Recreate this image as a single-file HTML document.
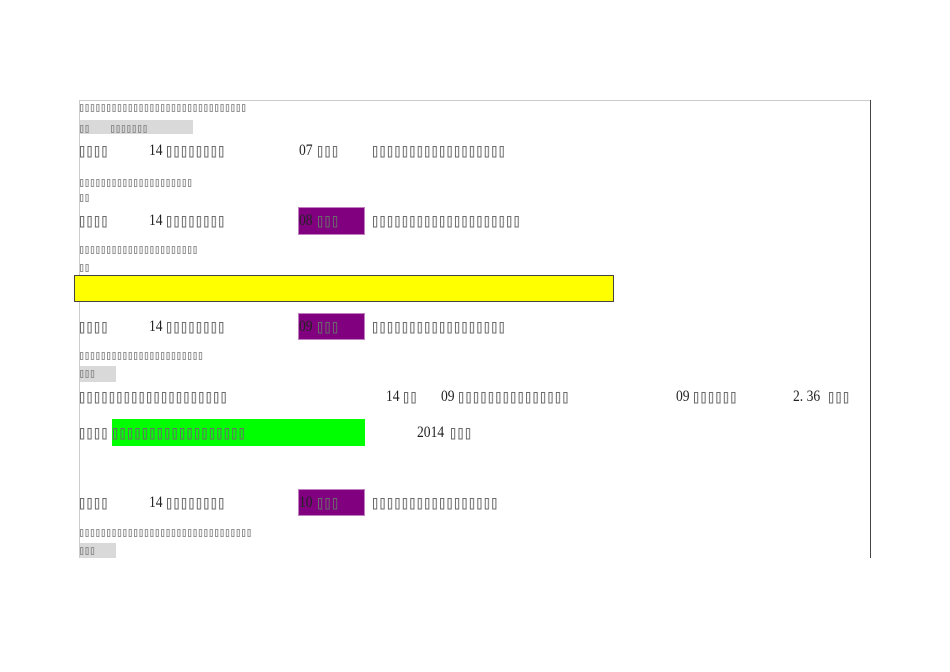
<!DOCTYPE html>
<html><head><meta charset="utf-8"><style>
body{margin:0;width:950px;height:672px;background:#fff;position:relative;overflow:hidden;font-family:"Liberation Serif","Noto Serif CJK SC",serif}
.a{position:absolute}
.t{position:absolute;font-size:16px;color:#222;line-height:16px;transform:scaleX(0.85);transform-origin:left top}
svg.r{position:absolute;overflow:visible}
</style></head><body>
<svg width="0" height="0" style="position:absolute"><defs>
<pattern id="pb" width="7.45" height="12" patternUnits="userSpaceOnUse"><rect x="0.5" y="0.5" width="3.2" height="10.5" fill="none" stroke="#6a6a6a" stroke-width="1"/></pattern>
<pattern id="ps" width="5.4" height="8" patternUnits="userSpaceOnUse"><rect x="0.5" y="0.5" width="2.3" height="7" fill="none" stroke="#8a8a8a" stroke-width="0.9"/></pattern>
</defs></svg>

<div class="a" style="left:79px;top:100px;width:792px;height:1px;background:#ccc"></div>
<div class="a" style="left:79px;top:100px;width:1px;height:458px;background:#ccc"></div>
<div class="a" style="left:870px;top:100px;width:1px;height:458px;background:#444"></div>

<div class="a" style="left:80px;top:120px;width:113px;height:14px;background:#d9d9d9"></div>
<div class="a" style="left:298px;top:207px;width:67px;height:28px;background:#800080;box-shadow:0 0 0 1px #c080c0 inset"></div>
<div class="a" style="left:74px;top:275px;width:538px;height:25px;background:#ff0;border:1px solid #444"></div>
<div class="a" style="left:298px;top:313px;width:67px;height:27px;background:#800080;box-shadow:0 0 0 1px #c080c0 inset"></div>
<div class="a" style="left:80px;top:366px;width:36px;height:16px;background:#d9d9d9"></div>
<div class="a" style="left:112px;top:419px;width:253px;height:27px;background:#00ff00"></div>
<div class="a" style="left:298px;top:489px;width:67px;height:27px;background:#800080;box-shadow:0 0 0 1px #c080c0 inset"></div>
<div class="a" style="left:80px;top:543px;width:36px;height:15px;background:#d9d9d9"></div>

<svg class="r" style="left:80px;top:104px" width="166" height="8"><rect width="166" height="8" fill="url(#ps)"/></svg>
<svg class="r" style="left:80px;top:125px" width="9" height="8"><rect width="9" height="8" fill="url(#ps)"/></svg>
<svg class="r" style="left:111px;top:125px" width="37" height="8"><rect width="37" height="8" fill="url(#ps)"/></svg>
<svg class="r" style="left:80px;top:179px" width="112" height="8"><rect width="112" height="8" fill="url(#ps)"/></svg>
<svg class="r" style="left:80px;top:194px" width="9" height="8"><rect width="9" height="8" fill="url(#ps)"/></svg>
<svg class="r" style="left:80px;top:246px" width="117" height="8"><rect width="117" height="8" fill="url(#ps)"/></svg>
<svg class="r" style="left:80px;top:264px" width="9" height="8"><rect width="9" height="8" fill="url(#ps)"/></svg>
<svg class="r" style="left:80px;top:352px" width="123" height="8"><rect width="123" height="8" fill="url(#ps)"/></svg>
<svg class="r" style="left:80px;top:370px" width="15" height="8"><rect width="15" height="8" fill="url(#ps)"/></svg>
<svg class="r" style="left:80px;top:529px" width="171" height="8"><rect width="171" height="8" fill="url(#ps)"/></svg>
<svg class="r" style="left:80px;top:547px" width="15" height="8"><rect width="15" height="8" fill="url(#ps)"/></svg>

<svg class="r" style="left:80px;top:146px" width="27" height="12"><rect width="27" height="12" fill="url(#pb)"/></svg>
<div class="t" style="left:149px;top:143px">14</div>
<svg class="r" style="left:167px;top:146px" width="57" height="12"><rect width="57" height="12" fill="url(#pb)"/></svg>
<div class="t" style="left:299px;top:143px">07</div>
<svg class="r" style="left:318px;top:146px" width="20" height="12"><rect width="20" height="12" fill="url(#pb)"/></svg>
<svg class="r" style="left:373px;top:146px" width="131" height="12"><rect width="131" height="12" fill="url(#pb)"/></svg>

<svg class="r" style="left:80px;top:216px" width="27" height="12"><rect width="27" height="12" fill="url(#pb)"/></svg>
<div class="t" style="left:149px;top:213px">14</div>
<svg class="r" style="left:167px;top:216px" width="57" height="12"><rect width="57" height="12" fill="url(#pb)"/></svg>
<div class="t" style="left:299px;top:213px">08</div>
<svg class="r" style="left:318px;top:216px" width="20" height="12"><rect width="20" height="12" fill="url(#pb)"/></svg>
<svg class="r" style="left:373px;top:216px" width="146" height="12"><rect width="146" height="12" fill="url(#pb)"/></svg>

<svg class="r" style="left:80px;top:322px" width="27" height="12"><rect width="27" height="12" fill="url(#pb)"/></svg>
<div class="t" style="left:149px;top:319px">14</div>
<svg class="r" style="left:167px;top:322px" width="57" height="12"><rect width="57" height="12" fill="url(#pb)"/></svg>
<div class="t" style="left:299px;top:319px">09</div>
<svg class="r" style="left:318px;top:322px" width="20" height="12"><rect width="20" height="12" fill="url(#pb)"/></svg>
<svg class="r" style="left:373px;top:322px" width="131" height="12"><rect width="131" height="12" fill="url(#pb)"/></svg>

<svg class="r" style="left:80px;top:498px" width="27" height="12"><rect width="27" height="12" fill="url(#pb)"/></svg>
<div class="t" style="left:149px;top:495px">14</div>
<svg class="r" style="left:167px;top:498px" width="57" height="12"><rect width="57" height="12" fill="url(#pb)"/></svg>
<div class="t" style="left:299px;top:495px">10</div>
<svg class="r" style="left:318px;top:498px" width="20" height="12"><rect width="20" height="12" fill="url(#pb)"/></svg>
<svg class="r" style="left:373px;top:498px" width="124" height="12"><rect width="124" height="12" fill="url(#pb)"/></svg>

<svg class="r" style="left:80px;top:392px" width="146" height="12"><rect width="146" height="12" fill="url(#pb)"/></svg>
<div class="t" style="left:386px;top:389px">14</div>
<svg class="r" style="left:404px;top:392px" width="12" height="12"><rect width="12" height="12" fill="url(#pb)"/></svg>
<div class="t" style="left:441px;top:389px">09</div>
<svg class="r" style="left:459px;top:392px" width="109" height="12"><rect width="109" height="12" fill="url(#pb)"/></svg>
<div class="t" style="left:676px;top:389px">09</div>
<svg class="r" style="left:694px;top:392px" width="42" height="12"><rect width="42" height="12" fill="url(#pb)"/></svg>
<div class="t" style="left:793px;top:389px">2. 36</div>
<svg class="r" style="left:829px;top:392px" width="20" height="12"><rect width="20" height="12" fill="url(#pb)"/></svg>

<svg class="r" style="left:80px;top:428px" width="27" height="12"><rect width="27" height="12" fill="url(#pb)"/></svg>
<svg class="r" style="left:113px;top:428px" width="131" height="12"><rect width="131" height="12" fill="url(#pb)"/></svg>
<div class="t" style="left:417px;top:425px">2014</div>
<svg class="r" style="left:451px;top:428px" width="20" height="12"><rect width="20" height="12" fill="url(#pb)"/></svg>
</body></html>
